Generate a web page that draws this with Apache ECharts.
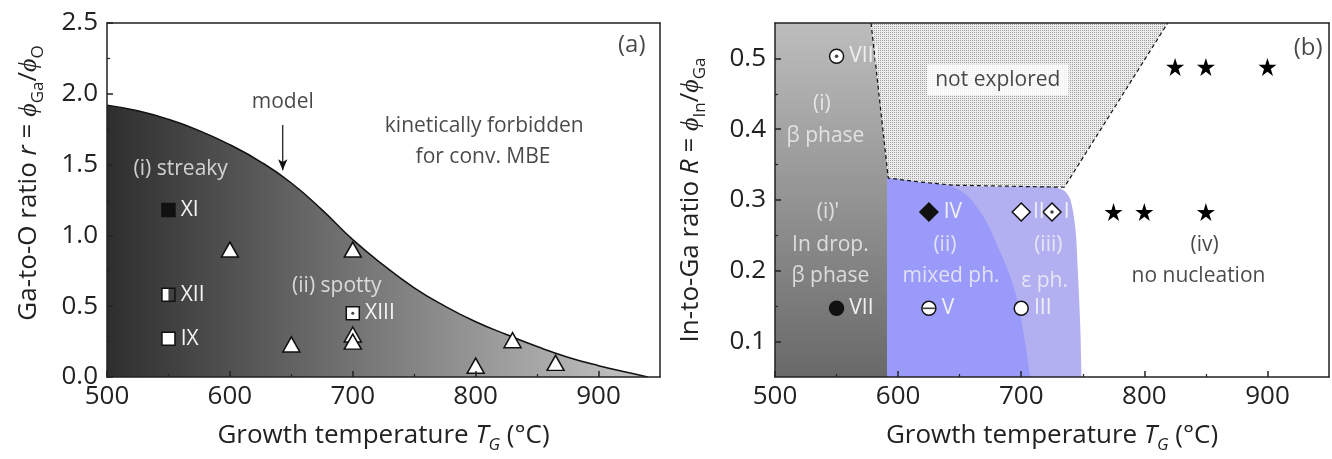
<!DOCTYPE html>
<html>
<head>
<meta charset="utf-8">
<title>Growth diagrams</title>
<script src="https://cdn.jsdelivr.net/npm/echarts@6/dist/echarts.min.js"></script>
<style>
html, body { margin: 0; padding: 0; background: #fff; }
#chart { width: 1332px; height: 459px; }
</style>
</head>
<body>
<div id="chart"></div>
<script>
// ---- panel (a): Ga-to-O ratio vs growth temperature ----
const modelCurve = [[500, 1.92], [525, 1.88], [550, 1.82], [575, 1.74], [600, 1.64], [625, 1.52], [650, 1.37],
  [675, 1.18], [700, 0.97], [725, 0.79], [750, 0.63], [775, 0.50], [800, 0.39], [825, 0.30], [850, 0.215],
  [875, 0.14], [900, 0.08], [925, 0.03], [940, 0]]
const aTriangles = [[600, 0.90], [700, 0.90], [650, 0.23], [700, 0.30], [700, 0.25], [800, 0.08], [830, 0.26], [865, 0.10]]
const aFilledSquares = [[550, 1.18, 'XI']]
const aHalfSquares = [[550, 0.58, 'XII']]
const aOpenSquares = [[550, 0.27, 'IX']]
const aDotSquares = [[700, 0.45, 'XIII']]
const modelArrow = [[643, 1.78], [643, 1.46]]
const aNotesWhite = [[560, 1.47, '(i) streaky'], [687, 0.64, '(ii) spotty']]
const aNotesBlack = [[807, 1.775, 'kinetically forbidden'], [806, 1.555, 'for conv. MBE'], [643, 1.94, 'model']]
const aPanelTag = [[927, 2.34, '(a)']]

// ---- panel (b): In-to-Ga ratio vs growth temperature ----
const bPhaseI = [[500, 0.55], [578, 0.55], [592, 0.331], [592, 0.05]]
const bPhaseIII = [[591, 0.331], [644, 0.321], [700, 0.319], [727, 0.318], [735, 0.313], [740, 0.300], [744, 0.26],
  [746, 0.20], [748, 0.12], [749, 0.05]]
const bPhaseII = [[591, 0.331], [610, 0.327], [630, 0.323], [645, 0.318], [657, 0.305], [666, 0.285], [674, 0.262],
  [680, 0.238], [687, 0.21], [693, 0.182], [698, 0.15], [701, 0.121], [704, 0.09], [706, 0.065], [707.5, 0.05]]
const bUnexplored = [[578, 0.55], [819, 0.55], [735, 0.318], [644, 0.321], [592, 0.331]]
const bBoundary = [[578, 0.55], [592, 0.331], [615, 0.326], [644, 0.321], [735, 0.318], [819, 0.55]]
const bStars = [[775, 0.283], [800, 0.283], [850, 0.283], [825, 0.488], [850, 0.488], [900, 0.488]]
const bFilledCircles = [[550, 0.147, 'VII']]
const bOpenCircles = [[700, 0.147, 'III']]
const bDotCircles = [[550, 0.503, 'VIII']]
const bBarCircles = [[625, 0.147, 'V']]
const bFilledDiamonds = [[625, 0.283, 'IV']]
const bOpenDiamonds = [[700, 0.283, 'II']]
const bDotDiamonds = [[725, 0.283, 'I']]
const bNotesWhite = [[538, 0.435, '(i)'], [541, 0.391, 'β phase'], [543, 0.283, "(i)'"], [545, 0.236, 'In drop.'],
  [545, 0.192, 'β phase'], [638, 0.236, '(ii)'], [643, 0.192, 'mixed ph.'], [722, 0.236, '(iii)'], [719, 0.185, 'ε ph.']]
const bNotesBlack = [[849, 0.236, '(iv)'], [844, 0.192, 'no nucleation']]
const bPanelTag = [[933, 0.514, '(b)']]
const bNotesBoxed = [[681, 0.47, 'not explored']]

// ---- axes ticks ----
const tempTicks = [500, 600, 700, 800, 900]
const tempMinor = [550, 650, 750, 850]
const aYTicks = [0, 0.5, 1.0, 1.5, 2.0, 2.5]
const aYMinor = [0.25, 0.75, 1.25, 1.75, 2.25]
const bYTicks = [0.1, 0.2, 0.3, 0.4, 0.5]
const bYMinor = [0.15, 0.25, 0.35, 0.45]

const FONT = 'Open Sans'
const INK = '#222'
const NOTE = 21
const STAR = 'path://M50 0 L61.17 34.63 L97.55 34.55 L68.07 55.87 L79.39 90.45 L50 69 L20.61 90.45 L31.93 55.87 L2.45 34.55 L38.83 34.63 Z'

const nameRich = {
  n: { fontFamily: FONT, fontSize: 26, color: INK, verticalAlign: 'bottom', padding: [0, 0, 5, 0] },
  i: { fontFamily: FONT, fontSize: 26, color: INK, fontStyle: 'italic', verticalAlign: 'bottom', padding: [0, 0, 5, 0] },
  s: { fontFamily: FONT, fontSize: 17, color: INK, verticalAlign: 'bottom' },
  si: { fontFamily: FONT, fontSize: 17, color: INK, fontStyle: 'italic', verticalAlign: 'bottom' }
}

function mainAxis(kind, grid, min, max, ticks, name, gap, pad) {
  return {
    type: 'value', gridIndex: grid, min: min, max: max, z: 10,
    position: kind === 'x' ? 'bottom' : 'left',
    axisLine: { show: true, onZero: false, lineStyle: { color: INK, width: 1.5 } },
    axisTick: { show: true, inside: true, length: 6, customValues: ticks, lineStyle: { color: INK, width: 1.5 } },
    axisLabel: {
      customValues: ticks, margin: kind === 'x' ? 7 : 9,
      formatter: kind === 'x' ? (v) => String(v) : (v) => v.toFixed(1),
      fontFamily: FONT, fontSize: 26, color: INK
    },
    splitLine: { show: false },
    name: name, nameLocation: 'middle', nameGap: gap,
    nameTextStyle: { rich: nameRich, padding: pad }
  }
}
function minorAxis(kind, grid, min, max, ticks) {
  return {
    type: 'value', gridIndex: grid, min: min, max: max, z: 10,
    position: kind === 'x' ? 'bottom' : 'left',
    axisLine: { show: false, onZero: false },
    axisTick: { show: true, inside: true, length: 3, customValues: ticks, lineStyle: { color: INK, width: 1.2 } },
    axisLabel: { show: false },
    splitLine: { show: false }
  }
}
function frameAxis(kind, grid, min, max) {
  return {
    type: 'value', gridIndex: grid, min: min, max: max, z: 10,
    position: kind === 'x' ? 'top' : 'right',
    axisLine: { show: true, onZero: false, lineStyle: { color: INK, width: 1.5 } },
    axisTick: { show: false }, axisLabel: { show: false }, splitLine: { show: false }
  }
}

const xName = '{n|Growth temperature }{i|T}{si|G}{n| (°C)}'

// 点状纹理 (stipple for "not explored")
function stipple() {
  const c = document.createElement('canvas')
  c.width = 2; c.height = 2
  const ctx = c.getContext('2d')
  ctx.fillStyle = '#ececec'; ctx.fillRect(0, 0, 2, 2)
  ctx.fillStyle = '#a0a0a0'; ctx.fillRect(0, 0, 1, 1)
  return c
}

function named(arr) {
  return arr.map((d) => ({ value: [d[0], d[1]], name: d[2] }))
}
function markerLabel(color) {
  return { show: true, position: 'right', distance: 5, formatter: '{b}', color: color, fontFamily: FONT, fontSize: NOTE }
}
function scatter(grid, data, symbol, size, fill, extra) {
  return Object.assign({
    type: 'scatter', xAxisIndex: grid * 3, yAxisIndex: grid * 3, data: data, symbol: symbol, symbolSize: size,
    itemStyle: { color: fill, borderColor: '#111', borderWidth: 1.5, opacity: 1 }, z: 5, silent: true
  }, extra || {})
}
function notes(grid, arr, color, extra) {
  return {
    type: 'scatter', xAxisIndex: grid * 3, yAxisIndex: grid * 3, data: named(arr), symbolSize: 1,
    itemStyle: { color: 'rgba(0,0,0,0)' }, z: 6, silent: true,
    label: Object.assign({ show: true, position: 'inside', formatter: '{b}', color: color, fontFamily: FONT, fontSize: NOTE }, extra || {})
  }
}

const chart = echarts.init(document.getElementById('chart'))
chart.setOption({
  animation: false,
  backgroundColor: '#fff',
  grid: [
    { left: 107, top: 23, width: 553, height: 354 },
    { left: 775, top: 23, width: 554, height: 354 }
  ],
  xAxis: [
    mainAxis('x', 0, 500, 950, tempTicks, xName, 46, 0),
    minorAxis('x', 0, 500, 950, tempMinor),
    frameAxis('x', 0, 500, 950),
    mainAxis('x', 1, 500, 950, tempTicks, xName, 46, 0),
    minorAxis('x', 1, 500, 950, tempMinor),
    frameAxis('x', 1, 500, 950)
  ],
  yAxis: [
    mainAxis('y', 0, 0, 2.5, aYTicks, '{n|Ga-to-O ratio }{i|r}{n| = }{i|ϕ}{s|Ga}{n|/}{i|ϕ}{s|O}', 60, [0, 0, 0, 34]),
    minorAxis('y', 0, 0, 2.5, aYMinor),
    frameAxis('y', 0, 0, 2.5),
    mainAxis('y', 1, 0.05, 0.55, bYTicks, '{n|In-to-Ga ratio }{i|R}{n| = }{i|ϕ}{s|In}{n|/}{i|ϕ}{s|Ga}', 66, 0),
    minorAxis('y', 1, 0.05, 0.55, bYMinor),
    frameAxis('y', 1, 0.05, 0.55)
  ],
  series: [
    // panel (a)
    {
      type: 'line', xAxisIndex: 0, yAxisIndex: 0, data: modelCurve, smooth: 0.5,
      symbol: 'none', lineStyle: { color: '#111', width: 1.5 }, z: 1, silent: true,
      areaStyle: {
        origin: 'start', opacity: 1,
        color: new echarts.graphic.LinearGradient(0, 0, 1, 0, [
          { offset: 0, color: '#2e2e2e' }, { offset: 1, color: '#c6c6c6' }
        ])
      }
    },
    {
      type: 'line', xAxisIndex: 0, yAxisIndex: 0, symbol: 'arrow', showSymbol: true, z: 4, silent: true,
      lineStyle: { color: '#111', width: 1.2 }, itemStyle: { color: '#111' },
      data: [
        { value: modelArrow[0], symbol: 'none' },
        { value: modelArrow[1], symbol: 'arrow', symbolSize: [7, 11], symbolRotate: 180 }
      ]
    },
    scatter(0, aTriangles, 'triangle', [17, 15], '#fff'),
    scatter(0, named(aFilledSquares), 'rect', 13, '#111', { label: markerLabel('#f4f4f4') }),
    scatter(0, named(aHalfSquares), 'rect', 13, '#fff', { label: markerLabel('#f4f4f4') }),
    scatter(0, aHalfSquares.map((d) => [d[0], d[1]]), 'rect', [6.5, 13], '#111', { symbolOffset: [3.25, 0], itemStyle: { color: '#111', borderWidth: 0 } }),
    scatter(0, named(aOpenSquares), 'rect', 13, '#fff', { label: markerLabel('#f4f4f4') }),
    scatter(0, named(aDotSquares), 'rect', 13, '#fff', { label: markerLabel('#f4f4f4') }),
    scatter(0, aDotSquares.map((d) => [d[0], d[1]]), 'circle', 3, '#111', { itemStyle: { color: '#111', borderWidth: 0 }, z: 6 }),
    notes(0, aNotesWhite, '#f4f4f4'),
    notes(0, aNotesBlack, '#1a1a1a'),
    notes(0, aPanelTag, '#1a1a1a', { fontSize: 24 }),

    // panel (b)
    {
      type: 'line', xAxisIndex: 3, yAxisIndex: 3, data: bPhaseI, symbol: 'none', z: 1, silent: true,
      lineStyle: { width: 0 },
      areaStyle: {
        origin: 'start', opacity: 1,
        color: new echarts.graphic.LinearGradient(0, 0, 0, 1, [
          { offset: 0, color: '#bdbdbd' }, { offset: 1, color: '#696969' }
        ])
      }
    },
    {
      type: 'custom', xAxisIndex: 3, yAxisIndex: 3, data: [bUnexplored[0]], z: 1, silent: true,
      renderItem: (params, api) => ({
        type: 'polygon',
        shape: { points: bUnexplored.map((p) => api.coord(p)) },
        style: { fill: { image: stipple(), repeat: 'repeat' } }
      })
    },
    {
      type: 'line', xAxisIndex: 3, yAxisIndex: 3, data: bPhaseIII, symbol: 'none', z: 2, silent: true,
      smooth: 0.3, lineStyle: { width: 0 }, areaStyle: { origin: 'start', opacity: 1, color: '#b3b0f2' }
    },
    {
      type: 'line', xAxisIndex: 3, yAxisIndex: 3, data: bPhaseII, symbol: 'none', z: 3, silent: true,
      smooth: 0.3, lineStyle: { width: 0 }, areaStyle: { origin: 'start', opacity: 1, color: '#9a9afb' }
    },
    {
      type: 'line', xAxisIndex: 3, yAxisIndex: 3, data: bBoundary, symbol: 'none', z: 4, silent: true,
      lineStyle: { color: '#111', width: 1.2, type: [4, 3] }
    },
    scatter(1, bStars, STAR, 18, '#000', { itemStyle: { color: '#000', borderWidth: 0, opacity: 1 } }),
    scatter(1, named(bFilledCircles), 'circle', 14, '#111', { label: markerLabel('#f0f0f0') }),
    scatter(1, named(bOpenCircles), 'circle', 14, '#fff', { label: markerLabel('#f0f0f0') }),
    scatter(1, named(bDotCircles), 'circle', 14, '#fff', { label: markerLabel('#f0f0f0') }),
    scatter(1, bDotCircles.map((d) => [d[0], d[1]]), 'circle', 3.5, '#111', { itemStyle: { color: '#111', borderWidth: 0 }, z: 6 }),
    scatter(1, named(bBarCircles), 'circle', 14, '#fff', { label: markerLabel('#f0f0f0') }),
    scatter(1, bBarCircles.map((d) => [d[0], d[1]]), 'rect', [12, 1.6], '#111', { itemStyle: { color: '#111', borderWidth: 0 }, z: 6 }),
    scatter(1, named(bFilledDiamonds), 'diamond', [18, 18], '#111', { label: markerLabel('#f0f0f0') }),
    scatter(1, named(bOpenDiamonds), 'diamond', [18, 18], '#fff', { label: Object.assign(markerLabel('#f0f0f0'), { distance: 2 }) }),
    scatter(1, named(bDotDiamonds), 'diamond', [18, 18], '#fff', { label: Object.assign(markerLabel('#f0f0f0'), { distance: 2 }) }),
    scatter(1, bDotDiamonds.map((d) => [d[0], d[1]]), 'circle', 3.5, '#111', { itemStyle: { color: '#111', borderWidth: 0 }, z: 6 }),
    notes(1, bNotesWhite, '#f2f2f2'),
    notes(1, bNotesBlack, '#1a1a1a'),
    notes(1, bPanelTag, '#1a1a1a', { fontSize: 24 }),
    notes(1, bNotesBoxed, '#1a1a1a', { backgroundColor: '#fff', padding: [5, 8, 5, 8] })
  ]
})
</script>
</body>
</html>
